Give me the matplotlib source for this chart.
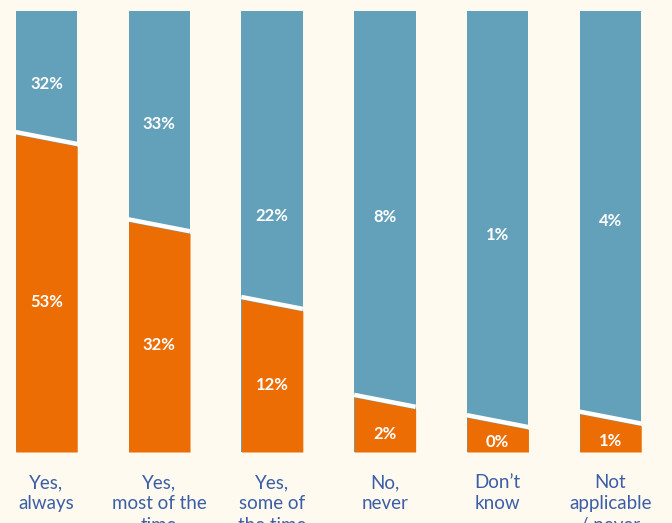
import numpy as np
from matplotlib import pyplot as plt

# answers along the bottom
categories = ["Yes,\nalways", "Yes,\nmost of the\ntime", "Yes,\nsome of\nthe time",
              "No,\nnever", "Don\u2019t\nknow", "Not\napplicable\n/ never"]
# share of each column filled orange (% of column height)
orange_share = [70.7, 50.9, 33.3, 11.1, 6.5, 7.3]
# printed percentages
orange_labels = ["53%", "32%", "12%", "2%", "0%", "1%"]
blue_labels = ["32%", "33%", "22%", "8%", "1%", "4%"]

# where the printed numbers sit (y, in column %)
orange_label_y = [34.5, 24.7, 15.6, 4.5, 2.7, 2.9]
blue_label_y = [83.9, 74.8, 54.0, 53.7, 49.7, 52.8]

BG = "#FFFAEF"
BLUE = "#63A1BB"
ORANGE = "#EC6D04"
TEXT = "#3B5EA6"
BAR_W = 0.545
SLANT = 2.7

plt.rcParams['font.family'] = ['Lato', 'DejaVu Sans']

fig = plt.figure(figsize=(6.72, 5.23), dpi=100, facecolor=BG)
ax = fig.add_axes([0, 71 / 523, 1, 441 / 523])
ax.set_facecolor(BG)

x = np.arange(len(categories))
ax.bar(x, [100] * len(x), width=BAR_W, color=BLUE, linewidth=0)

for i, h in enumerate(orange_share):
    xs = np.array([x[i] - BAR_W / 2, x[i] + BAR_W / 2])
    top = np.array([h + SLANT / 2, h - SLANT / 2])
    ax.fill_between(xs, 0, top, color=ORANGE, linewidth=0)
    ax.plot(xs, top + 0.5, color="white", linewidth=3.2, solid_capstyle="butt")
    ax.text(x[i], orange_label_y[i] - 0.4, orange_labels[i], ha="center", va="center",
            color="white", fontsize=12, fontweight="bold")
    ax.text(x[i], blue_label_y[i] - 0.4, blue_labels[i], ha="center", va="center",
            color="white", fontsize=12, fontweight="bold")

ax.set_xlim(-0.412, 5.545)
ax.set_ylim(0, 100)
ax.set_xticks(x)
ax.set_xticklabels(categories, color=TEXT, fontsize=13.5, linespacing=1.3)
ax.tick_params(axis="x", length=0, pad=16)
ax.set_yticks([])
for s in ax.spines.values():
    s.set_visible(False)

plt.savefig("out.png", dpi=100, facecolor=BG)
plt.close()
